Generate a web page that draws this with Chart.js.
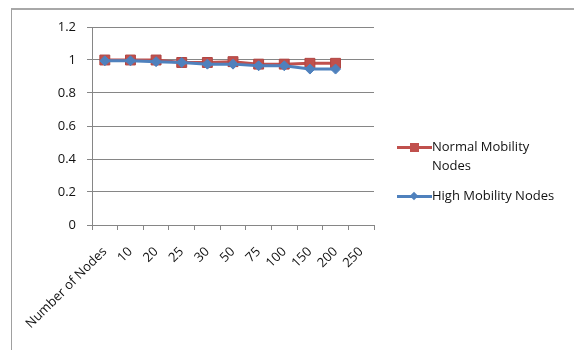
<!DOCTYPE html>
<html>
<head>
<meta charset="utf-8">
<script src="https://cdn.jsdelivr.net/npm/chart.js@4"></script>
<style>
  body { margin: 0; background: #fff; }
  #wrap { position: relative; width: 574px; height: 350px; overflow: hidden; }
  #frame {
    position: absolute; left: 11px; top: 8px; right: -5px; bottom: -5px;
    border-left: 1.5px solid #a0a0a0; border-top: 2px solid #a8a8a8;
  }
  .legend-item { position: absolute; left: 397px; font: 13px "Open Sans", sans-serif; color: #111; }
  .legend-line { position: absolute; left: 0; width: 35px; height: 3px; }
  .legend-mark { position: absolute; }
  .legend-text { position: absolute; left: 35px; line-height: 19px; white-space: nowrap; }
</style>
</head>
<body>
<div id="wrap">
  <div id="frame"></div>
  <canvas id="chart" width="574" height="350"></canvas>
  <div id="legend"></div>
</div>
<script>
const categories = ['Number of Nodes', '10', '20', '25', '30', '50', '75', '100', '150', '200', '250'];
const normalMobility = [1, 1, 1, 0.985, 0.985, 0.99, 0.975, 0.975, 0.98, 0.98, null];
const highMobility = [0.995, 0.995, 0.99, 0.985, 0.975, 0.975, 0.965, 0.965, 0.945, 0.945, null];
const yTicks = [0, 0.2, 0.4, 0.6, 0.8, 1, 1.2];

const red = '#C0504D';
const blue = '#4F81BD';
const gridColor = '#868686';
const tickFont = { family: 'Open Sans', size: 13 };

const ctx = document.getElementById('chart').getContext('2d');

new Chart(ctx, {
  type: 'line',
  data: {
    labels: categories,
    datasets: [
      {
        label: 'Normal Mobility Nodes',
        data: normalMobility,
        borderColor: red,
        backgroundColor: red,
        borderWidth: 3,
        pointStyle: 'rect',
        pointRadius: 7,
        pointBorderWidth: 1,
        pointBorderColor: '#b04542',
        order: 2
      },
      {
        label: 'High Mobility Nodes',
        data: highMobility,
        borderColor: blue,
        backgroundColor: blue,
        borderWidth: 3,
        pointStyle: 'rectRot',
        pointRadius: 5,
        pointBorderWidth: 1,
        order: 1
      }
    ]
  },
  options: {
    responsive: false,
    animation: false,
    layout: { padding: { left: 0, right: 200, top: 27, bottom: 0 } },
    plugins: { legend: { display: false }, tooltip: { enabled: false } },
    scales: {
      x: {
        type: 'category',
        offset: true,
        grid: { drawOnChartArea: false, drawTicks: true, tickLength: 5, offset: true, color: gridColor },
        border: { color: gridColor },
        ticks: { minRotation: 45, maxRotation: 45, autoSkip: false, font: tickFont, color: '#111', padding: 14 },
        afterFit: (s) => { s.height = 125; }
      },
      y: {
        min: 0,
        max: 1.2,
        afterBuildTicks: (s) => { s.ticks = yTicks.map((v) => ({ value: v })); },
        grid: { color: gridColor, tickLength: 5 },
        border: { color: gridColor },
        ticks: { font: tickFont, color: '#111', padding: 11, callback: (v) => String(v) },
        afterFit: (s) => { s.width = 92; }
      }
    }
  }
});

// легенда справа, как в оригинале
const legendItems = [
  { text: 'Normal Mobility<br>Nodes', color: red, top: 146, shape: 'square' },
  { text: 'High Mobility Nodes', color: blue, top: 195, shape: 'diamond' }
];
const legend = document.getElementById('legend');
legendItems.forEach((item) => {
  const el = document.createElement('div');
  el.className = 'legend-item';
  el.style.top = item.top + 'px';
  const mark = item.shape === 'square'
    ? `<div class="legend-mark" style="left:13px;top:-3px;width:9px;height:9px;background:${item.color}"></div>`
    : `<div class="legend-mark" style="left:14px;top:-2px;width:6px;height:6px;background:${item.color};transform:rotate(45deg)"></div>`;
  el.innerHTML = `
    <div class="legend-line" style="top:0;background:${item.color}"></div>
    ${mark}
    <div class="legend-text" style="top:-9px">${item.text}</div>`;
  legend.appendChild(el);
});
</script>
</body>
</html>
